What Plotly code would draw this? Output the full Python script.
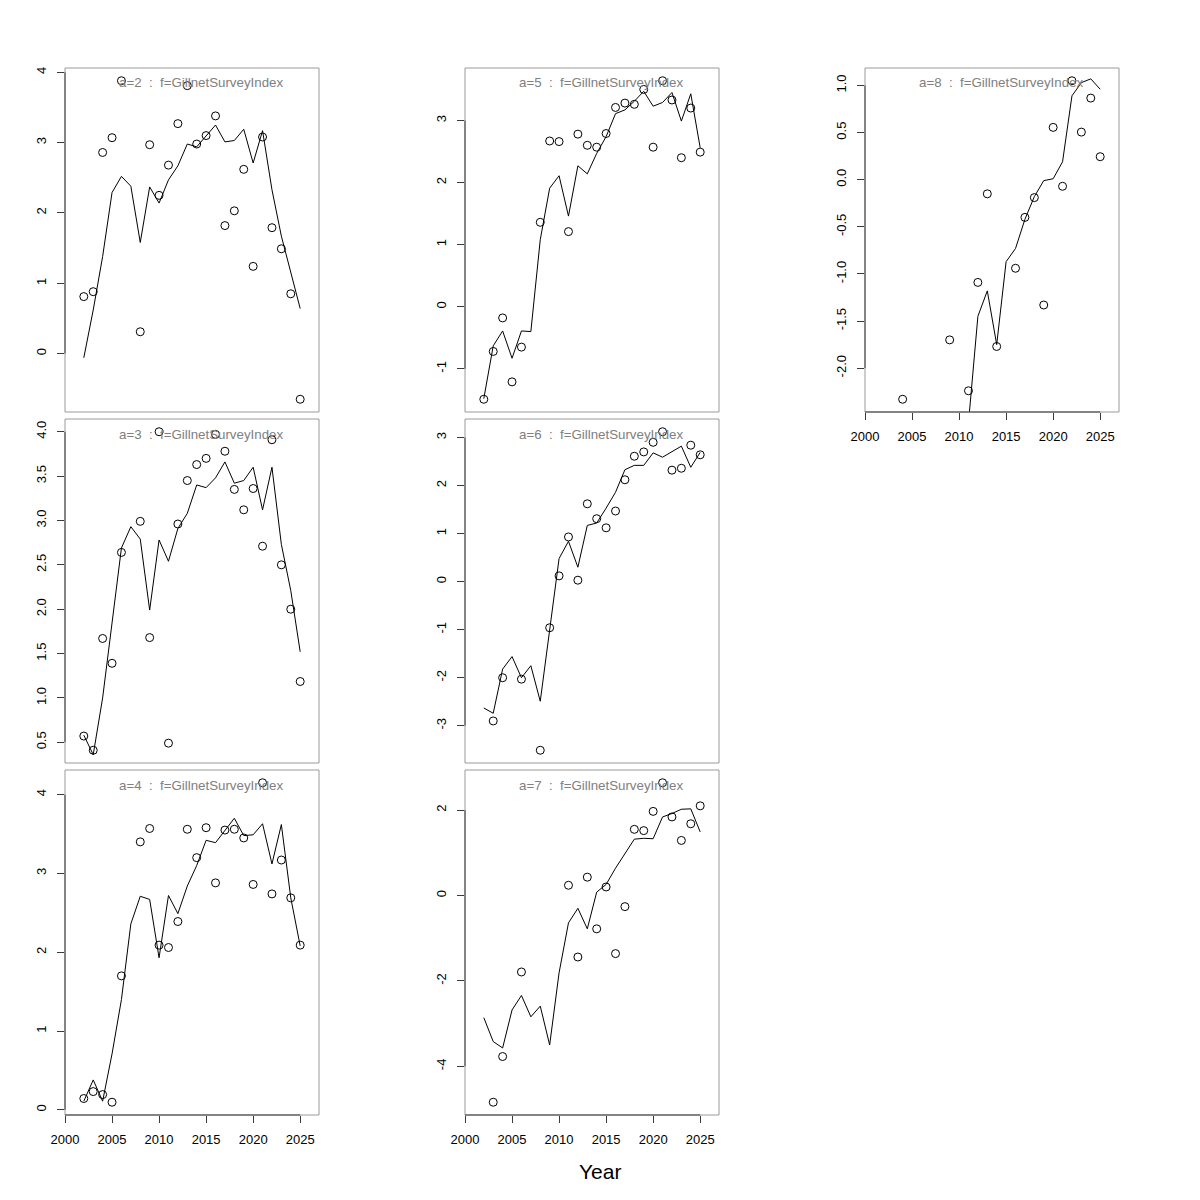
import plotly.graph_objects as go

# ---------------- data ----------------
years = list(range(2002, 2026))
x_tickvals = [2000, 2005, 2010, 2015, 2020, 2025]

a2_obs = [0.81, 0.88, 2.86, 3.07, 3.88, None, 0.31, 2.97, 2.25, 2.68, 3.27, 3.81,
          2.98, 3.10, 3.38, 1.82, 2.03, 2.62, 1.24, 3.08, 1.79, 1.49, 0.85, -0.65]
a2_fit = [-0.06, 0.62, 1.38, 2.29, 2.52, 2.38, 1.58, 2.37, 2.14, 2.47, 2.67, 2.98,
          2.94, 3.09, 3.25, 3.01, 3.03, 3.19, 2.71, 3.17, 2.33, 1.67, 1.15, 0.64]

a3_obs = [0.57, 0.41, 1.67, 1.39, 2.64, None, 2.99, 1.68, 4.00, 0.49, 2.96, 3.45,
          3.63, 3.70, 3.97, 3.78, 3.35, 3.12, 3.36, 2.71, 3.91, 2.50, 2.00, 1.185]
a3_fit = [0.58, 0.36, 1.00, 1.87, 2.69, 2.93, 2.79, 1.99, 2.78, 2.54, 2.91, 3.08,
          3.40, 3.37, 3.48, 3.66, 3.42, 3.45, 3.60, 3.12, 3.60, 2.73, 2.21, 1.52]

a4_obs = [0.144, 0.232, 0.194, 0.097, 1.70, None, 3.40, 3.57, 2.09, 2.06, 2.39, 3.56,
          3.20, 3.58, 2.88, 3.55, 3.56, 3.45, 2.86, 4.15, 2.74, 3.17, 2.69, 2.09]
a4_fit = [0.11, 0.38, 0.11, 0.71, 1.40, 2.36, 2.71, 2.67, 1.93, 2.72, 2.49, 2.84,
          3.10, 3.42, 3.39, 3.54, 3.70, 3.48, 3.49, 3.63, 3.12, 3.62, 2.69, 2.08]

a5_obs = [-1.49, -0.72, -0.18, -1.21, -0.65, None, 1.36, 2.67, 2.66, 1.21, 2.78, 2.60,
          2.57, 2.79, 3.21, 3.28, 3.26, 3.50, 2.57, 3.64, 3.33, 2.40, 3.20, 2.49]
a5_fit = [-1.48, -0.63, -0.39, -0.83, -0.39, -0.40, 1.08, 1.91, 2.11, 1.46, 2.27, 2.14,
          2.47, 2.74, 3.11, 3.17, 3.31, 3.47, 3.23, 3.29, 3.45, 2.99, 3.43, 2.56]

a6_obs = [None, -2.90, -2.00, None, -2.03, None, -3.51, -0.96, 0.12, 0.93, 0.03, 1.62,
          1.31, 1.12, 1.47, 2.12, 2.61, 2.70, 2.90, 3.12, 2.32, 2.36, 2.84, 2.64]
a6_fit = [-2.63, -2.74, -1.82, -1.56, -2.00, -1.75, -2.49, -0.95, 0.48, 0.84, 0.30, 1.17,
          1.22, 1.53, 1.86, 2.33, 2.42, 2.42, 2.68, 2.59, 2.71, 2.82, 2.38, 2.69]

a7_obs = [None, -4.84, -3.77, None, -1.79, None, None, None, None, 0.24, -1.44, 0.43,
          -0.78, 0.20, -1.36, -0.26, 1.55, 1.52, 1.97, 2.64, 1.84, 1.29, 1.68, 2.10]
a7_fit = [-2.86, -3.42, -3.57, -2.68, -2.34, -2.84, -2.59, -3.50, -1.81, -0.64, -0.30, -0.78,
          0.08, 0.26, 0.64, 0.99, 1.32, 1.34, 1.33, 1.84, 1.92, 2.02, 2.03, 1.49]

a8_obs = [None, None, -2.33, None, None, None, None, -1.70, None, -2.24, -1.09, -0.15,
          -1.77, None, -0.94, -0.40, -0.19, -1.33, 0.555, -0.07, 1.05, 0.505, 0.866, 0.244]
a8_fit = [None, None, None, None, None, None, None, None, None, -2.58, -1.45, -1.18,
          -1.75, -0.87, -0.73, -0.42, -0.18, -0.01, 0.01, 0.19, 0.89, 1.03, 1.07, 0.96]

a2_ticks = [0, 1, 2, 3, 4]
a2_labels = ["0", "1", "2", "3", "4"]
a3_ticks = [0.5, 1.0, 1.5, 2.0, 2.5, 3.0, 3.5, 4.0]
a3_labels = ["0.5", "1.0", "1.5", "2.0", "2.5", "3.0", "3.5", "4.0"]
a4_ticks = [0, 1, 2, 3, 4]
a4_labels = ["0", "1", "2", "3", "4"]
a5_ticks = [-1, 0, 1, 2, 3]
a5_labels = ["-1", "0", "1", "2", "3"]
a6_ticks = [-3, -2, -1, 0, 1, 2, 3]
a6_labels = ["-3", "-2", "-1", "0", "1", "2", "3"]
a7_ticks = [-4, -2, 0, 2]
a7_labels = ["-4", "-2", "0", "2"]
a8_ticks = [-2.0, -1.5, -1.0, -0.5, 0.0, 0.5, 1.0]
a8_labels = ["-2.0", "-1.5", "-1.0", "-0.5", "0.0", "0.5", "1.0"]

panel_names = ["a=2", "a=3", "a=4", "a=5", "a=6", "a=7", "a=8"]
fleet_name = "f=GillnetSurveyIndex"
x_title = "Year"

# ---------------- layout helpers ----------------
OFF = 8                       # page body margin in the browser
W = H = 1200 - OFF
col_px = [(65, 319), (465, 719), (865, 1119)]
row_px = [(68, 412), (419, 763), (770, 1115)]

panels = [
    (a2_obs, a2_fit, a2_ticks, a2_labels, 0, 0, False),
    (a3_obs, a3_fit, a3_ticks, a3_labels, 0, 1, False),
    (a4_obs, a4_fit, a4_ticks, a4_labels, 0, 2, True),
    (a5_obs, a5_fit, a5_ticks, a5_labels, 1, 0, False),
    (a6_obs, a6_fit, a6_ticks, a6_labels, 1, 1, False),
    (a7_obs, a7_fit, a7_ticks, a7_labels, 1, 2, True),
    (a8_obs, a8_fit, a8_ticks, a8_labels, 2, 0, True),
]

FONT = "Liberation Sans, Arial, Helvetica, sans-serif"
BOX = "#9a9a9a"
AXC = "#3a3a3a"
TICKFONT = dict(size=13, family=FONT, color="black")


def px_x(p):
    return (p - OFF) / W


def px_y(p):
    return 1 - (p - OFF) / H


fig = go.Figure()
layout = dict(
    width=W, height=H, margin=dict(l=0, r=0, t=0, b=0, autoexpand=False),
    paper_bgcolor="white", plot_bgcolor="white", showlegend=False,
    font=dict(family=FONT, size=12, color="black"),
)
shapes = []
annotations = []

for i, (obs, fit, yt, yl, c, r, showx) in enumerate(panels, start=1):
    sfx = "" if i == 1 else str(i)
    xa, ya = "x" + sfx, "y" + sfx
    vals = [v for v in obs if v is not None]
    lo, hi = min(vals), max(vals)
    pad = 0.04 * (hi - lo)
    yrange = [lo - pad, hi + pad]

    fig.add_trace(go.Scatter(x=years, y=fit, mode="lines", xaxis=xa, yaxis=ya,
                             line=dict(color="black", width=1), connectgaps=False,
                             hoverinfo="skip"))
    fig.add_trace(go.Scatter(x=years, y=obs, mode="markers", xaxis=xa, yaxis=ya,
                             marker=dict(symbol="circle-open", size=8, color="black",
                                         line=dict(width=1, color="black")),
                             cliponaxis=True))

    x0, x1 = col_px[c]
    y0, y1 = row_px[r]
    layout["xaxis" + sfx] = dict(
        domain=[px_x(x0), px_x(x1)], range=[2000, 2027], anchor=ya, automargin=False,
        showgrid=False, zeroline=False, showline=False,
        ticks="outside" if showx else "", ticklen=7, tickcolor=AXC,
        tickvals=x_tickvals, showticklabels=showx, ticklabelstandoff=5,
        tickfont=TICKFONT,
    )
    layout["yaxis" + sfx] = dict(
        domain=[px_y(y1), px_y(y0)], range=yrange, anchor=xa, automargin=False,
        showgrid=False, zeroline=False, showline=False,
        ticks="outside", ticklen=7, tickcolor=AXC,
        tickvals=yt, ticktext=yl, tickangle=-90, ticklabelstandoff=6,
        tickfont=TICKFONT,
    )
    # plot box
    shapes.append(dict(type="rect", xref=xa + " domain", yref=ya + " domain",
                       x0=0, x1=1, y0=0, y1=1, line=dict(color=BOX, width=1),
                       fillcolor="rgba(0,0,0,0)", layer="above"))
    # y axis line spanning ticks
    shapes.append(dict(type="line", xref=xa + " domain", yref=ya,
                       x0=0, x1=0, y0=yt[0], y1=yt[-1],
                       line=dict(color=AXC, width=1), layer="above"))
    if showx:
        shapes.append(dict(type="line", xref=xa, yref=ya + " domain",
                           x0=x_tickvals[0], x1=x_tickvals[-1], y0=0, y1=0,
                           line=dict(color=AXC, width=1), layer="above"))
    annotations.append(dict(
        xref=xa + " domain", yref=ya + " domain", x=0.535, y=1 - 15 / (y1 - y0),
        text=panel_names[i - 1] + "\u00a0\u00a0:\u00a0\u00a0" + fleet_name,
        showarrow=False, xanchor="center", yanchor="middle",
        font=dict(size=13.3, family=FONT, color="#808080"),
    ))

annotations.append(dict(xref="paper", yref="paper", x=px_x(600), y=px_y(1171),
                        text=x_title, showarrow=False, xanchor="center", yanchor="middle",
                        font=dict(size=21, family=FONT, color="black")))

layout["shapes"] = shapes
layout["annotations"] = annotations
fig.update_layout(**layout)
fig.write_html("out.html")
